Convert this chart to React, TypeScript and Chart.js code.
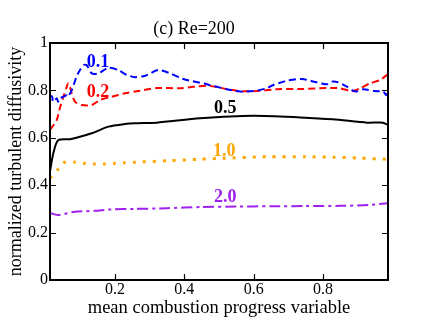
import React, { useEffect, useRef } from "react";
import { Chart, registerables } from "chart.js";

Chart.register(...registerables);

// Series: Re=200, labels 0.1, 0.2, 0.5, 1.0, 2.0
const blueX = [0.0124, 0.019, 0.021, 0.032, 0.036, 0.041, 0.051, 0.061, 0.064, 0.075, 0.089, 0.099, 0.109, 0.118, 0.133, 0.152, 0.18, 0.209, 0.234, 0.258, 0.287, 0.325, 0.359, 0.397, 0.465, 0.522, 0.561, 0.599, 0.638, 0.657, 0.696, 0.739, 0.782, 0.811, 0.825, 0.844, 0.869, 0.893, 0.917, 0.95, 0.974, 0.982, 0.9875];
const blueY = [0.78, 0.773, 0.752, 0.767, 0.752, 0.767, 0.773, 0.78, 0.773, 0.8, 0.858, 0.886, 0.907, 0.907, 0.872, 0.872, 0.895, 0.886, 0.865, 0.856, 0.862, 0.886, 0.872, 0.848, 0.826, 0.805, 0.795, 0.797, 0.809, 0.823, 0.841, 0.848, 0.834, 0.826, 0.837, 0.834, 0.816, 0.795, 0.805, 0.797, 0.795, 0.78, 0.79];

const redX = [0.0124, 0.032, 0.041, 0.051, 0.061, 0.065, 0.07, 0.075, 0.085, 0.104, 0.133, 0.157, 0.19, 0.229, 0.258, 0.32, 0.388, 0.465, 0.522, 0.561, 0.609, 0.676, 0.743, 0.811, 0.849, 0.883, 0.907, 0.936, 0.965, 0.984, 0.9875];
const redY = [0.633, 0.675, 0.726, 0.773, 0.816, 0.83, 0.816, 0.788, 0.752, 0.738, 0.738, 0.76, 0.773, 0.788, 0.795, 0.81, 0.809, 0.82, 0.806, 0.797, 0.797, 0.806, 0.806, 0.81, 0.809, 0.797, 0.809, 0.83, 0.844, 0.865, 0.87];

const blackX = [0.0124, 0.022, 0.036, 0.07, 0.094, 0.133, 0.181, 0.229, 0.258, 0.32, 0.445, 0.598, 0.734, 0.829, 0.927, 0.973, 0.9875];
const blackY = [0.457, 0.535, 0.59, 0.594, 0.602, 0.619, 0.647, 0.658, 0.661, 0.664, 0.682, 0.693, 0.686, 0.678, 0.664, 0.664, 0.654];

const orangeX = [0.0124, 0.036, 0.055, 0.084, 0.113, 0.142, 0.171, 0.2, 0.229, 0.258, 0.35, 0.45, 0.5, 0.64, 0.75, 0.83, 0.9, 0.9875];
const orangeY = [0.43, 0.467, 0.497, 0.497, 0.492, 0.489, 0.489, 0.492, 0.495, 0.497, 0.503, 0.51, 0.513, 0.52, 0.52, 0.518, 0.515, 0.509];

const purpleX = [0.0124, 0.035, 0.084, 0.142, 0.19, 0.258, 0.35, 0.45, 0.55, 0.65, 0.75, 0.85, 0.93, 0.9875];
const purpleY = [0.283, 0.274, 0.288, 0.292, 0.298, 0.3, 0.303, 0.308, 0.31, 0.311, 0.312, 0.313, 0.316, 0.324];

const xTicks = [0.2, 0.4, 0.6, 0.8];
const yTicks = [0, 0.2, 0.4, 0.6, 0.8, 1];

const curveLabels = ["0.1", "0.2", "0.5", "1.0", "2.0"];
const labelX = [0.151, 0.151, 0.518, 0.515, 0.518];
const labelY = [0.92, 0.79, 0.726, 0.544, 0.35];
const labelColors = ["#0000ff", "#ff0000", "#000000", "#ffa500", "#a020f0"];

const SERIF = "'Liberation Serif', 'DejaVu Serif', serif";

function pts(xs: number[], ys: number[]) {
  return xs.map((x, i) => ({ x, y: ys[i] }));
}

const framePlugin = {
  id: "frame",
  afterDraw(chart: any) {
    const { ctx, chartArea } = chart;
    const xs = chart.scales.x;
    const ys = chart.scales.y;
    const { left, right, top, bottom } = chartArea;
    ctx.save();
    ctx.strokeStyle = "#000";
    ctx.lineWidth = 1.2;
    const tl = 6;
    ctx.beginPath();
    xTicks.forEach((v) => {
      const px = Math.round(xs.getPixelForValue(v)) + 0.5;
      ctx.moveTo(px, bottom);
      ctx.lineTo(px, bottom - tl);
      ctx.moveTo(px, top);
      ctx.lineTo(px, top + tl);
    });
    yTicks.slice(1, -1).forEach((v) => {
      const py = Math.round(ys.getPixelForValue(v)) + 0.5;
      ctx.moveTo(left, py);
      ctx.lineTo(left + tl, py);
      ctx.moveTo(right, py);
      ctx.lineTo(right - tl, py);
    });
    ctx.stroke();
    ctx.lineWidth = 2;
    ctx.strokeRect(left, top, right - left, bottom - top);
    // curve labels
    ctx.font = "bold 18px " + SERIF;
    ctx.textAlign = "center";
    ctx.textBaseline = "middle";
    curveLabels.forEach((t, i) => {
      ctx.fillStyle = labelColors[i];
      ctx.fillText(t, xs.getPixelForValue(labelX[i]), ys.getPixelForValue(labelY[i]));
    });
    ctx.restore();
  },
};

export default function App() {
  const ref = useRef<HTMLCanvasElement>(null);
  useEffect(() => {
    if (!ref.current) return;
    const common = { pointRadius: 0, fill: false, tension: 0.25, borderCapStyle: "butt" as const };
    const chart = new Chart(ref.current, {
      type: "line",
      data: {
        datasets: [
          { ...common, data: pts(blueX, blueY), borderColor: "#0000ff", borderWidth: 2, borderDash: [7, 4] },
          { ...common, data: pts(redX, redY), borderColor: "#ff0000", borderWidth: 2, borderDash: [7, 4] },
          { ...common, data: pts(blackX, blackY), borderColor: "#000000", borderWidth: 2 },
          { ...common, data: pts(orangeX, orangeY), borderColor: "#ffa500", borderWidth: 3, borderDash: [3, 7] },
          { ...common, data: pts(purpleX, purpleY), borderColor: "#a020f0", borderWidth: 2, borderDash: [11, 4, 3, 4] },
        ],
      },
      options: {
        animation: false,
        responsive: false,
        layout: { padding: { left: 0, right: 48, top: 0, bottom: 0 } },
        plugins: {
          legend: { display: false },
          tooltip: { enabled: false },
          title: {
            display: true,
            text: "(c) Re=200",
            color: "#000",
            font: { family: SERIF, size: 18, weight: "normal" },
            padding: { top: 18, bottom: 3.4 },
          },
        },
        scales: {
          x: {
            type: "linear",
            min: 0.0125,
            max: 0.9875,
            afterFit: (s: any) => {
              s.height = 46;
            },
            afterBuildTicks: (s: any) => {
              s.ticks = xTicks.map((v) => ({ value: v }));
            },
            grid: { display: false, drawTicks: false },
            border: { display: false },
            ticks: {
              padding: 0,
              color: "#000",
              font: { family: SERIF, size: 16 },
              callback: (v: any) => String(v),
            },
            title: {
              display: true,
              text: "mean combustion progress variable",
              color: "#000",
              font: { family: SERIF, size: 18.5 },
              padding: { top: 0, bottom: 7 },
            },
          },
          y: {
            type: "linear",
            min: 0,
            max: 1,
            afterFit: (s: any) => {
              s.width = 50;
            },
            afterBuildTicks: (s: any) => {
              s.ticks = yTicks.map((v) => ({ value: v }));
            },
            grid: { display: false, drawTicks: false },
            border: { display: false },
            ticks: {
              padding: 2,
              color: "#000",
              font: { family: SERIF, size: 16 },
              callback: (v: any) => String(v),
            },
            title: {
              display: true,
              text: "normalized turbulent diffusivity",
              color: "#000",
              font: { family: SERIF, size: 18 },
              padding: { top: 5, bottom: 0 },
            },
          },
        },
      },
      plugins: [framePlugin],
    });
    return () => chart.destroy();
  }, []);
  return (
    <div style={{ position: "fixed", left: 0, top: 0, width: 436, height: 326, background: "#fff" }}>
      <canvas ref={ref} width={436} height={326} />
    </div>
  );
}
